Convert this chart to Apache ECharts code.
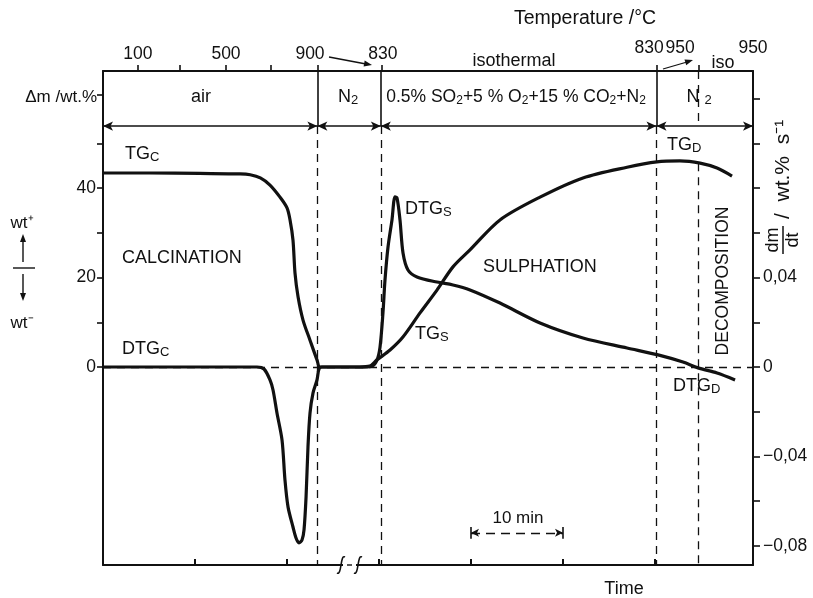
<!DOCTYPE html>
<html><head><meta charset="utf-8">
<script src="https://cdn.jsdelivr.net/npm/echarts@6/dist/echarts.min.js"></script>
<style>html,body{margin:0;padding:0;background:#fff}#c{width:813px;height:598px}</style>
</head><body><div id="c"></div>
<script>
// ---- data (time in min, TG in wt.%, DTG in wt.% s^-1) ----
const tgTime  = [0,5.1,10.5,14.9,16.0,17.1,18.15,19.24,20.0,20.33,20.65,20.87,21.2,21.74,22.5,23.26,23.6,27.9,29.0,29.78,31.2,32.6,34.46,36.3,38.04,39.89,43.15,47.5,52.17,56.96,60.2,62.7,64.9,66.74,68.37];
const tgValue = [43.4,43.4,43.3,43.2,43.0,42.3,40.7,38.0,35.6,32.9,28.4,21.0,15.7,10.5,6.0,1.6,0,0,0.2,1.6,3.8,6.7,12.1,17.2,22.4,26.2,32.9,38.0,42.3,44.7,45.9,46.1,45.6,44.5,42.7];
const dtgTime  = [0,10,16.74,17.5,18.15,18.48,18.91,19.46,19.78,20.11,20.65,20.98,21.3,21.63,21.85,22.07,22.28,22.5,22.83,23.26,23.48,23.8,28.48,29.24,29.78,30.11,30.43,30.65,30.98,31.41,31.74,31.96,32.28,32.61,33.15,34.13,36.3,38.04,39.89,43.15,47.5,52.17,56.96,60.33,63.04,64.67,66.74,68.7];
const dtgValue = [0,0,0,-0.0009,-0.0058,-0.0103,-0.0206,-0.0327,-0.0506,-0.0626,-0.0716,-0.0765,-0.0787,-0.0774,-0.0729,-0.0582,-0.0358,-0.0206,-0.0116,-0.0058,-0.0009,0,0,0.0004,0.0031,0.0089,0.0242,0.0389,0.0537,0.0658,0.0761,0.0756,0.0658,0.051,0.0434,0.0403,0.038,0.0367,0.0345,0.0286,0.0197,0.013,0.0085,0.0054,0.0022,-0.0004,-0.0027,-0.0058];

// axes
const xMax = 70.65;
const yMin = -44.3, yMax = 66.22;      // left axis (wt.%)
const rightScale = 0.002;              // 1 wt.% on left == 0.002 wt.% s^-1 on right
const bottomTicks = [10,20,30,40,50,60];
const topTicks = [3.8,8.37,13.37,18.26,23.3,30.33,60.16,64.7];
const topLabelPos = [3.8,13.37,22.5,30.43,59.35,62.72,70.65];
const topLabels = ['100','500','900','830','830','950','950'];
const leftTicks = [0,10,20,30,40,50,60.85];
const leftLabels = [0,20,40];
const rightTicks = [-0.08,-0.06,-0.04,-0.02,0,0.02,0.04,0.06,0.08,0.10,0.12];
const rightLabels = [-0.08,-0.04,0,0.04];

// stage boundaries (time) and band level
const stageBounds = [23.3,30.2,60.16];
const isoEnd = 64.7;
const bandLevel = 53.9;
const tgdAtIsoEnd = 45.6;
const scaleBar = [40,50];
const scaleBarLevel = -37.1;

const FONT = 'Liberation Sans, Arial, Helvetica, sans-serif';
const INK = '#111';

const chart = echarts.init(document.getElementById('c'));

const dashStyle = {color: INK, width: 1.3, type: [8,6]};
const solidStyle = {color: INK, width: 1.6, type: 'solid'};

const guides = [];
const segs = [0].concat(stageBounds).concat([xMax]);
for (let i = 0; i < segs.length - 1; i++) {
  guides.push([{coord:[segs[i], bandLevel], symbol:'arrow', symbolSize:[7,10], lineStyle: solidStyle},
               {coord:[segs[i+1], bandLevel], symbol:'arrow', symbolSize:[7,10]}]);
}
stageBounds.forEach(function(b){
  guides.push([{coord:[b, yMax], lineStyle: solidStyle}, {coord:[b, bandLevel]}]);
  guides.push([{coord:[b, bandLevel], lineStyle: dashStyle}, {coord:[b, yMin]}]);
});
guides.push([{coord:[isoEnd, yMax], lineStyle: dashStyle}, {coord:[isoEnd, bandLevel]}]);
guides.push([{coord:[isoEnd, tgdAtIsoEnd], lineStyle: dashStyle}, {coord:[isoEnd, yMin]}]);
guides.push([{coord:[0, 0], lineStyle: dashStyle}, {coord:[xMax, 0]}]);
guides.push([{coord:[scaleBar[0], scaleBarLevel], symbol:'arrow', symbolSize:[6,8], lineStyle:{color:INK,width:1.3,type:[9,6]}},
             {coord:[scaleBar[1], scaleBarLevel], symbol:'arrow', symbolSize:[6,8]}]);
scaleBar.forEach(function(s){
  guides.push([{coord:[s, scaleBarLevel+1.3], lineStyle: solidStyle}, {coord:[s, scaleBarLevel-1.3]}]);
});

function zip(a, b){ return a.map(function(v,i){ return [v, b[i]]; }); }

function rich(size){
  return {
    n: {fontSize: size, fontFamily: FONT, fill: INK, lineHeight: size + 2},
    s: {fontSize: Math.round(size*0.7), fontFamily: FONT, fill: INK, lineHeight: 8, verticalAlign: 'bottom'}
  };
}
function T(x, y, text, size, align, extra){
  const el = {type:'text', x:x, y:y, z:100, silent:true,
    style:{text:text, fontFamily:FONT, fontSize:size, fill:INK, align:align||'left', verticalAlign:'middle', rich: rich(size)}};
  if (extra) Object.assign(el, extra);
  return el;
}
function L(x1,y1,x2,y2,w){
  return {type:'line', z:100, silent:true, shape:{x1:x1,y1:y1,x2:x2,y2:y2}, style:{stroke:INK, lineWidth:w||1.4}};
}
function head(x1,y1,x2,y2,len,w){
  const a = Math.atan2(y2-y1, x2-x1);
  const bx = x2 - len*Math.cos(a), by = y2 - len*Math.sin(a);
  const nx = -Math.sin(a)*w, ny = Math.cos(a)*w;
  return {type:'polygon', z:100, silent:true, shape:{points:[[x2,y2],[bx+nx,by+ny],[bx-nx,by-ny]]}, style:{fill:INK}};
}
function brk(x, y){
  return {type:'bezierCurve', z:100, silent:true,
    shape:{x1:x-4, y1:y+8, cpx1:x+1, cpy1:y+11, cpx2:x-1, cpy2:y-11, x2:x+4, y2:y-8},
    style:{stroke:INK, fill:null, lineWidth:1.6}};
}

const graphics = [
  T(585, 19, 'Temperature /°C', 19.5, 'center'),
  T(514, 61, 'isothermal', 18, 'center'),
  T(723, 63, 'iso', 18, 'center'),
  L(329,57,366,64,1.3), head(329,57,372,65,8,3),
  L(663,69,687,62,1.3), head(663,69,693,60,8,3),
  T(97, 97, 'Δm /wt.%', 17, 'right'),
  T(201, 97, 'air', 18, 'center'),
  T(348, 97, '{n|N}{s|2}', 18, 'center'),
  T(516, 97, '{n|0.5% SO}{s|2}{n|+5 % O}{s|2}{n|+15 % CO}{s|2}{n|+N}{s|2}', 17.5, 'center'),
  T(699, 97, '{n|N }{s|2}', 18, 'center'),
  T(125, 154, '{n|TG}{s|C}', 18, 'left'),
  T(122, 258, 'CALCINATION', 18, 'left'),
  T(122, 349, '{n|DTG}{s|C}', 18, 'left'),
  T(405, 209, '{n|DTG}{s|S}', 18, 'left'),
  T(415, 334, '{n|TG}{s|S}', 18, 'left'),
  T(483, 267, 'SULPHATION', 18, 'left'),
  T(667, 145, '{n|TG}{s|D}', 18, 'left'),
  T(673, 386, '{n|DTG}{s|D}', 18, 'left'),
  T(723, 281, 'DECOMPOSITION', 17.5, 'center', {rotation: Math.PI/2}),
  T(518, 518, '10 min', 17, 'center'),
  T(624, 589, 'Time', 18, 'center'),
  T(22, 223, 'wt⁺', 17, 'center'),
  L(23,262,23,240,1.4), head(23,262,23,234,8,3),
  L(13,268,35,268,1.4),
  L(23,274,23,295,1.4), head(23,274,23,301,8,3),
  T(22, 323, 'wt⁻', 17, 'center'),
  {type:'rect', z:99, silent:true, shape:{x:343,y:562,width:13,height:6}, style:{fill:'#fff'}},
  L(347,565,352,565,1.4),
  brk(341, 565), brk(358, 565),
  {type:'group', x:783, y:254, rotation:Math.PI/2, z:100, silent:true, children:[
    {type:'text', x:14, y:-10, z:100, style:{text:'dm', fontFamily:FONT, fontSize:18, fill:INK, align:'center', verticalAlign:'middle'}},
    {type:'line', z:100, shape:{x1:0,y1:0,x2:28,y2:0}, style:{stroke:INK, lineWidth:1.5}},
    {type:'text', x:14, y:10, z:100, style:{text:'dt', fontFamily:FONT, fontSize:18, fill:INK, align:'center', verticalAlign:'middle'}},
    {type:'text', x:35, y:0, z:100, style:{text:'/  wt.%  s⁻¹', fontFamily:FONT, fontSize:21, fill:INK, align:'left', verticalAlign:'middle'}}
  ]}
];

function fmtRight(v){
  if (Math.abs(v) < 1e-9) return '0';
  return (v < 0 ? '−' : '') + Math.abs(v).toFixed(2).replace('.', ',');
}

chart.setOption({
  animation: false,
  backgroundColor: '#fff',
  grid: {left: 103, right: 60, top: 71, bottom: 33, containLabel: false},
  xAxis: [
    {type:'value', position:'bottom', min:0, max:xMax,
     axisLine:{show:true, onZero:false, lineStyle:{color:INK, width:2}},
     axisTick:{show:true, inside:true, length:6, customValues: bottomTicks, lineStyle:{color:INK, width:2}},
     axisLabel:{show:false}, splitLine:{show:false}},
    {type:'value', position:'top', min:0, max:xMax,
     axisLine:{show:true, onZero:false, lineStyle:{color:INK, width:2}},
     axisTick:{show:true, inside:false, length:6, customValues: topTicks, lineStyle:{color:INK, width:1.6}},
     axisLabel:{show:true, margin:8, customValues: topLabelPos,
       formatter:function(v){
         let i = topLabelPos.findIndex(function(p){ return Math.abs(p - v) < 1e-6; });
         if (i < 0) return '';
         return (i >= 4 ? '{hi|' : '{lo|') + topLabels[i] + '}';
       },
       rich:{lo:{fontSize:17.5, fontFamily:FONT, color:INK},
             hi:{fontSize:17.5, fontFamily:FONT, color:INK, padding:[0,0,6,0]}}},
     splitLine:{show:false}}
  ],
  yAxis: [
    {type:'value', position:'left', min:yMin, max:yMax,
     axisLine:{show:true, onZero:false, lineStyle:{color:INK, width:2}},
     axisTick:{show:true, inside:false, length:6, customValues: leftTicks, lineStyle:{color:INK, width:1.6}},
     axisLabel:{show:true, margin:7, customValues: leftLabels, fontSize:17.5, fontFamily:FONT, color:INK},
     splitLine:{show:false}},
    {type:'value', position:'right', min:yMin*rightScale, max:yMax*rightScale,
     axisLine:{show:true, onZero:false, lineStyle:{color:INK, width:2}},
     axisTick:{show:true, inside:false, length:7, customValues: rightTicks, lineStyle:{color:INK, width:1.6}},
     axisLabel:{show:true, margin:10, customValues: rightLabels, fontSize:17.5, fontFamily:FONT, color:INK, formatter: fmtRight},
     splitLine:{show:false}}
  ],
  series: [
    {name:'TG', type:'line', xAxisIndex:0, yAxisIndex:0, data: zip(tgTime, tgValue),
     showSymbol:false, symbol:'none', smooth:0.3,
     lineStyle:{color:INK, width:3.2}, z:5,
     markLine:{silent:true, symbol:['none','none'], label:{show:false}, emphasis:{disabled:true},
       lineStyle:{color:INK}, data: guides}},
    {name:'DTG', type:'line', xAxisIndex:0, yAxisIndex:1, data: zip(dtgTime, dtgValue),
     showSymbol:false, symbol:'none', smooth:0.3,
     lineStyle:{color:INK, width:3.2}, z:5}
  ],
  graphic: graphics
});
</script>
</body></html>
